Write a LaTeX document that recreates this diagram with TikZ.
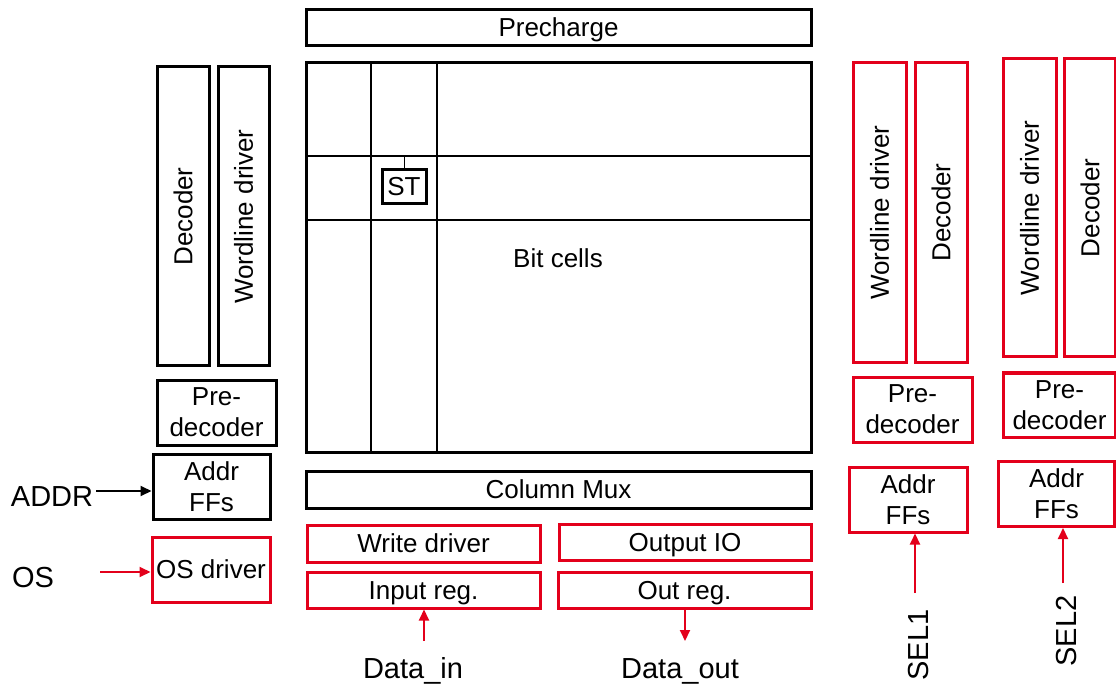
\documentclass[tikz,border=0pt]{standalone}
\usepackage{fontspec}
\setmainfont{Liberation Sans}
\usetikzlibrary{arrows.meta}
\definecolor{cred}{RGB}{227,0,27}
\tikzset{
  blk/.style={draw=black, line width=3pt, inner sep=0pt, align=center, font=\fontsize{26}{31}\selectfont},
  rbx/.style={blk, draw=cred},
  one/.style={text height=18.6pt, text depth=0pt},
  lbl/.style={inner sep=0pt, font=\fontsize{29}{34}\selectfont, text height=20.8pt, text depth=0pt},
  grid/.style={line width=2.8pt},
  barr/.style={line width=2pt, -{Triangle[length=11pt,width=10pt]}},
  rarr/.style={barr, draw=cred, -{Triangle[length=11pt,width=10pt,fill=cred]}},
}
\begin{document}
\begin{tikzpicture}[x=1pt,y=-1pt]
\useasboundingbox (0,0) rectangle (1116,684);
% center array
\node[blk, one, minimum width=505, minimum height=36] (pre) at (558.5,27.5) {Precharge};
\node[blk, minimum width=505, minimum height=389] (arr) at (558.5,257.5) {};
\draw[grid] (371,63) -- (371,452);
\draw[grid] (437,63) -- (437,452);
\draw[grid] (306,156) -- (811,156);
\draw[grid] (306,220) -- (811,220);
\node[blk, one, minimum width=44, minimum height=34] (st) at (404,186.5) {ST};
\coordinate (stwire) at (404,156);
\draw[line width=1pt] (st.north) -- (stwire);
\node[inner sep=0pt, one, font=\fontsize{26}{31}\selectfont] (bits) at (558,258) {Bit cells};
\node[blk, one, minimum width=505, minimum height=37] (cmux) at (558.5,489.5) {Column Mux};
% data path
\node[rbx, one, minimum width=233, minimum height=37] (wd) at (423.5,543.5) {Write driver};
\node[rbx, one, minimum width=233, minimum height=36] (inr) at (423.5,590) {Input reg.};
\node[rbx, one, minimum width=252, minimum height=36] (oio) at (685,542.5) {Output IO};
\node[rbx, one, minimum width=253, minimum height=36] (outr) at (684.5,590) {Out reg.};
\node[lbl] (din) at (413,668) {Data\_in};
\node[lbl] (dout) at (680,668) {Data\_out};
\coordinate (dinsrc) at (424,641);
\coordinate (doutdst) at (685,641);
\draw[rarr] (dinsrc) -- (dinsrc |- inr.south);
\draw[rarr] (outr.south -| doutdst) -- (doutdst);
% left side
\node[blk, one, rotate=90, minimum width=299, minimum height=52] (ldec) at (183,216.5) {Decoder};
\node[blk, one, rotate=90, minimum width=299, minimum height=51] (lwl) at (243.5,216.5) {Wordline driver};
\node[blk, minimum width=119, minimum height=65] (lpre) at (216.5,412.5) {Pre-\\decoder};
\node[blk, minimum width=117, minimum height=65] (laff) at (211.5,486.5) {Addr\\FFs};
\node[rbx, one, minimum width=118, minimum height=65] (osd) at (211,569.5) {OS driver};
\node[lbl] (addr) at (52,496) {ADDR};
\node[lbl] (os) at (33,577) {OS};
\coordinate (addrsrc) at (96,491);
\coordinate (ossrc) at (100,572);
\draw[barr] (addrsrc) -- (addrsrc -| laff.west);
\draw[rarr] (ossrc) -- (ossrc -| osd.west);
% right group 1
\node[rbx, one, rotate=90, minimum width=300, minimum height=53] (r1wl) at (879.5,212.5) {Wordline driver};
\node[rbx, one, rotate=90, minimum width=300, minimum height=52] (r1dec) at (941,212.5) {Decoder};
\node[rbx, minimum width=119, minimum height=65] (r1pre) at (912.5,409.5) {Pre-\\decoder};
\node[rbx, minimum width=118, minimum height=65] (r1aff) at (908,499.5) {Addr\\FFs};
\node[lbl, rotate=90] (sel1) at (918,645) {SEL1};
\coordinate (sel1src) at (915,593);
\draw[rarr] (sel1src) -- (sel1src |- r1aff.south);
% right group 2
\node[rbx, one, rotate=90, minimum width=298, minimum height=53] (r2wl) at (1029.5,208) {Wordline driver};
\node[rbx, one, rotate=90, minimum width=298, minimum height=51] (r2dec) at (1090,208) {Decoder};
\node[rbx, minimum width=112, minimum height=64] (r2pre) at (1059.5,405) {Pre-\\decoder};
\node[rbx, minimum width=116, minimum height=65] (r2aff) at (1056.5,494) {Addr\\FFs};
\node[lbl, rotate=90] (sel2) at (1066,631) {SEL2};
\coordinate (sel2src) at (1063,583);
\draw[rarr] (sel2src) -- (sel2src |- r2aff.south);
\end{tikzpicture}
\end{document}
